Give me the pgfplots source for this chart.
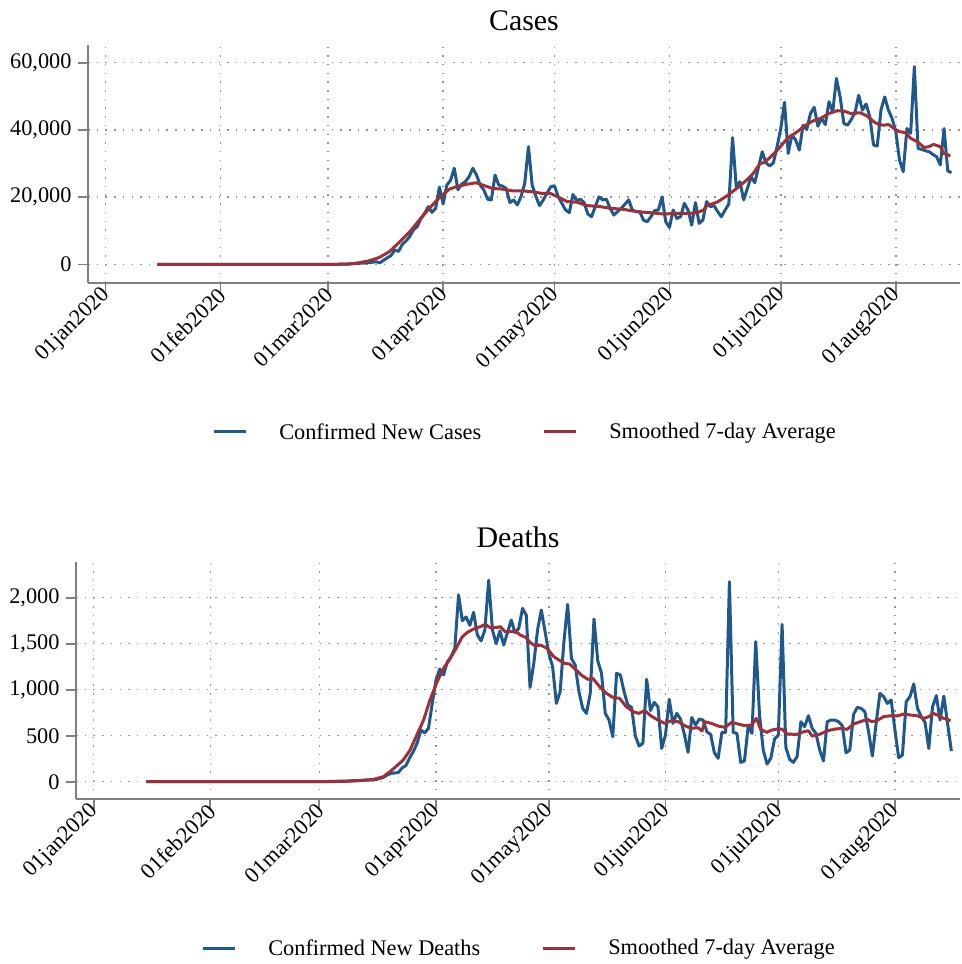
\documentclass[border=0pt]{standalone}
\usepackage{fontspec}
\setmainfont{Liberation Serif}
\usepackage{pgfplots}
\usepackage{pgfplotstable}
\pgfplotsset{compat=1.18}
\definecolor{cblue}{RGB}{30,88,140}
\definecolor{cred}{RGB}{158,48,56}
\definecolor{axgray}{RGB}{128,128,128}

\pgfplotstableread{
d v
14 0
59 0
60 20
61 30
62 50
63 70
64 100
65 120
66 180
67 250
68 300
69 400
70 450
71 550
72 700
73 800
74 500
75 1300
76 2000
77 2700
78 4300
79 3900
80 6000
81 7000
82 8300
83 10300
84 11200
85 13600
86 15200
87 17200
88 15500
89 16700
90 23000
91 18000
92 23600
93 25000
94 28600
95 22200
96 23900
97 24600
98 26100
99 28600
100 26600
101 23600
102 22100
103 19400
104 19200
105 26600
106 23600
107 23300
108 22600
109 18400
110 19200
111 17700
112 20200
113 24100
114 35000
115 23600
116 20200
117 17500
118 19200
119 21200
120 23100
121 23400
122 20200
123 18200
124 16200
125 15400
126 20800
127 19000
128 19400
129 18400
130 15000
131 14200
132 17200
133 20100
134 19200
135 19400
136 16700
137 14700
138 15700
139 16700
140 17900
141 19200
142 16200
143 15700
144 15700
145 13200
146 12700
147 14200
148 16000
149 16200
150 20100
151 12700
152 11000
153 16200
154 13700
155 14200
156 18200
157 16200
158 11700
159 18400
160 12200
161 13200
162 18700
163 17200
164 17500
165 15700
166 14200
167 16200
168 18000
169 37700
170 23100
171 24600
172 19200
173 22600
174 26100
175 24300
176 29000
177 33500
178 30200
179 29300
180 30200
181 35000
182 40400
183 48200
184 33000
185 38500
186 37000
187 34000
188 41400
189 40100
190 44900
191 46700
192 41100
193 43400
194 41600
195 48400
196 45400
197 55300
198 49800
199 41900
200 41400
201 43100
202 45100
203 50300
204 45900
205 47700
206 43900
207 35500
208 35200
209 45900
210 49800
211 45900
212 43400
213 39500
214 31000
215 27600
216 40400
217 39000
218 58800
219 34500
220 34200
221 33800
222 33500
223 32700
224 32000
225 29600
226 40400
227 27800
228 27300
}\casesraw

\pgfplotstableread{
d v
14 0
60 0
65.8 150
68.5 550
71.1 1100
73.8 2100
76.5 3800
79.2 6600
81.9 9600
84.6 13200
87.3 16700
90 19900
92.7 22400
94.5 23100
97.2 23800
99.9 24300
101.7 23600
104.3 22600
107 22400
109.7 21900
112.4 21900
115.1 21600
117.8 21100
120 21100
122.6 19700
124.4 18700
127.1 18500
129.8 17500
133.4 17200
136 16700
139.6 16400
143.2 15700
146.8 15400
150.4 15000
154 15200
157.6 15200
159.4 15400
161.2 16200
162.1 17500
164.8 18500
167.5 20400
170.1 22600
172.8 25100
174.6 27100
176.4 30000
177.5 30300
179.3 32000
181.5 34500
183.8 37500
186.5 39500
188.3 41100
190.5 42600
192.7 43400
195 44900
197.2 45700
199 45600
200.8 44900
203.5 45100
205.3 44100
207.1 42400
208.4 41600
209.8 41400
211.1 41600
212.5 40400
213.8 39500
215.6 39200
217 37500
218.8 36500
220.6 34800
221.9 35000
223.2 35700
225 35000
225.9 33000
227.7 32300
}\casessmooth

\pgfplotstableread{
d v
14 0
60 0
61 1
62 2
63 3
64 4
65 5
66 5
67 7
68 8
69 10
70 12
71 14
72 16
73 18
74 20
75 22
76 35
77 47
78 72
79 90
80 95
81 100
82 150
83 175
84 260
85 330
86 420
87 560
88 530
89 580
90 850
91 1105
92 1225
93 1160
94 1300
95 1360
96 1450
97 2030
98 1750
99 1790
100 1700
101 1840
102 1595
103 1530
104 1650
105 2190
106 1650
107 1500
108 1640
109 1485
110 1620
111 1757
112 1620
113 1666
114 1884
115 1810
116 1025
117 1286
118 1650
119 1866
120 1630
121 1395
122 1250
123 851
124 978
125 1520
126 1927
127 1340
128 1268
129 978
130 797
131 743
132 960
133 1768
134 1315
135 1178
136 743
137 670
138 489
139 1178
140 1160
141 978
142 833
143 808
144 496
145 388
146 417
147 1112
148 772
149 862
150 815
151 362
152 507
153 895
154 634
155 743
156 681
157 518
158 319
159 699
160 616
161 681
162 670
163 543
164 514
165 315
166 254
167 536
168 536
169 2174
170 536
171 525
172 210
173 225
174 609
175 525
176 1522
177 725
178 344
179 192
180 254
181 464
182 507
183 1710
184 373
185 243
186 210
187 272
188 652
189 598
190 717
191 580
192 525
193 344
194 225
195 652
196 670
197 670
198 652
199 609
200 315
201 344
202 732
203 808
204 797
205 761
206 543
207 279
208 634
209 960
210 924
211 851
212 888
213 562
214 261
215 290
216 870
217 924
218 1062
219 797
220 707
221 645
222 362
223 815
224 935
225 670
226 931
227 634
228 333
}\deathsraw

\pgfplotstableread{
d v
14 0
60 0
66 3
70 10
74.3 25
77 54
78.8 109
80.6 174
82.3 235
84.1 344
85.9 507
87.7 670
89.4 888
91.2 1076
93 1232
94.8 1340
96.5 1460
97.9 1570
99.2 1620
101 1660
102.8 1685
104.1 1710
105.4 1674
107.2 1677
108.1 1685
109.4 1630
110.8 1630
112.1 1638
113.4 1594
114.8 1570
116.1 1511
117.4 1475
118.8 1485
120.5 1450
122.3 1360
123.4 1330
125.2 1286
126.5 1279
127.8 1232
129.6 1160
131.4 1112
132.7 1123
134.5 1033
136.3 960
138 917
139.8 906
141.6 815
143.4 761
144.9 743
146.5 772
148.2 714
150 670
151.8 634
153.6 663
155.4 652
157.1 609
158.9 580
160.7 587
161.7 551
162.5 652
164.2 634
166 605
167.8 591
169.6 645
171.3 627
173.1 609
174.9 616
176.2 688
177.3 569
178.9 536
180.3 562
181.6 572
183 572
184.3 518
186.9 514
188.7 543
190 554
191 496
193.2 518
195 554
197.1 572
198.9 580
200.3 569
202 627
203.8 652
205.6 678
206.9 652
208.2 663
210 707
211.8 717
213.6 714
215.4 736
217.1 725
218.9 717
220.7 688
222 707
223.2 743
224.7 717
226 688
227.8 663
}\deathssmooth

\pgfplotsset{
  statastyle/.style={
    scale only axis,
    axis x line*=bottom,
    axis y line*=left,
    axis line style={axgray, line width=1.8bp},
    tick style={axgray, line width=1.8bp},
    tick align=outside,
    major tick length=10bp,
    scaled y ticks=false,
    xmin=-4.7, xmax=230.3,
    xtick={0,31,60,91,121,152,182,213},
    xticklabels={01jan2020,01feb2020,01mar2020,01apr2020,01may2020,01jun2020,01jul2020,01aug2020},
    xticklabel style={rotate=45, anchor=east, inner sep=1bp, xshift=3bp, font=\fontsize{22.4}{26}\selectfont},
    yticklabel style={xshift=-3bp, font=\fontsize{22.4}{26}\selectfont},
    title style={font=\fontsize{30}{36}\selectfont, at={(0.5,1)}, anchor=base, yshift=9bp},
    grid=major,
    major grid style={draw=gray!85, line width=1.5bp, dash pattern=on 1.5bp off 7.2bp},
    legend columns=2,
    legend cell align=left,
    legend style={draw=none, fill=none, font=\fontsize{22.4}{26}\selectfont,
      at={(0.5,0)}, anchor=center, yshift=-149bp,
      nodes={inner sep=0pt},
      /tikz/every odd column/.append style={column sep=32bp},
      /tikz/every even column/.append style={column sep=61bp}},
    legend image code/.code={\draw[#1] (0bp,0bp) -- (32bp,0bp);},
    /pgf/number format/assume math mode=true,
  }
}

\begin{document}
\begin{tikzpicture}
\useasboundingbox (0,0) rectangle (962bp,964bp);
\begin{axis}[statastyle,
  at={(88bp,681bp)}, anchor=south west,
  width=872bp, height=238bp,
  ymin=-5498, ymax=65235,
  ytick={0,20000,40000,60000},
  yticklabels={0,{20,000},{40,000},{60,000}},
  title={Cases}]
\addplot[cblue, no markers, line width=3bp, line join=round] table[x=d,y=v] {\casesraw};
\addlegendentry{Confirmed New Cases}
\addplot[cred, no markers, line width=3bp, line join=round] table[x=d,y=v] {\casessmooth};
\addlegendentry{Smoothed 7-day Average}
\end{axis}
\begin{axis}[statastyle,
  at={(76bp,165bp)}, anchor=south west,
  width=884bp, height=237bp,
  ymin=-188, ymax=2388,
  ytick={0,500,1000,1500,2000},
  yticklabels={0,500,{1,000},{1,500},{2,000}},
  title={Deaths}]
\addplot[cblue, no markers, line width=3bp, line join=round] table[x=d,y=v] {\deathsraw};
\addlegendentry{Confirmed New Deaths}
\addplot[cred, no markers, line width=3bp, line join=round] table[x=d,y=v] {\deathssmooth};
\addlegendentry{Smoothed 7-day Average}
\end{axis}
\end{tikzpicture}
\end{document}
